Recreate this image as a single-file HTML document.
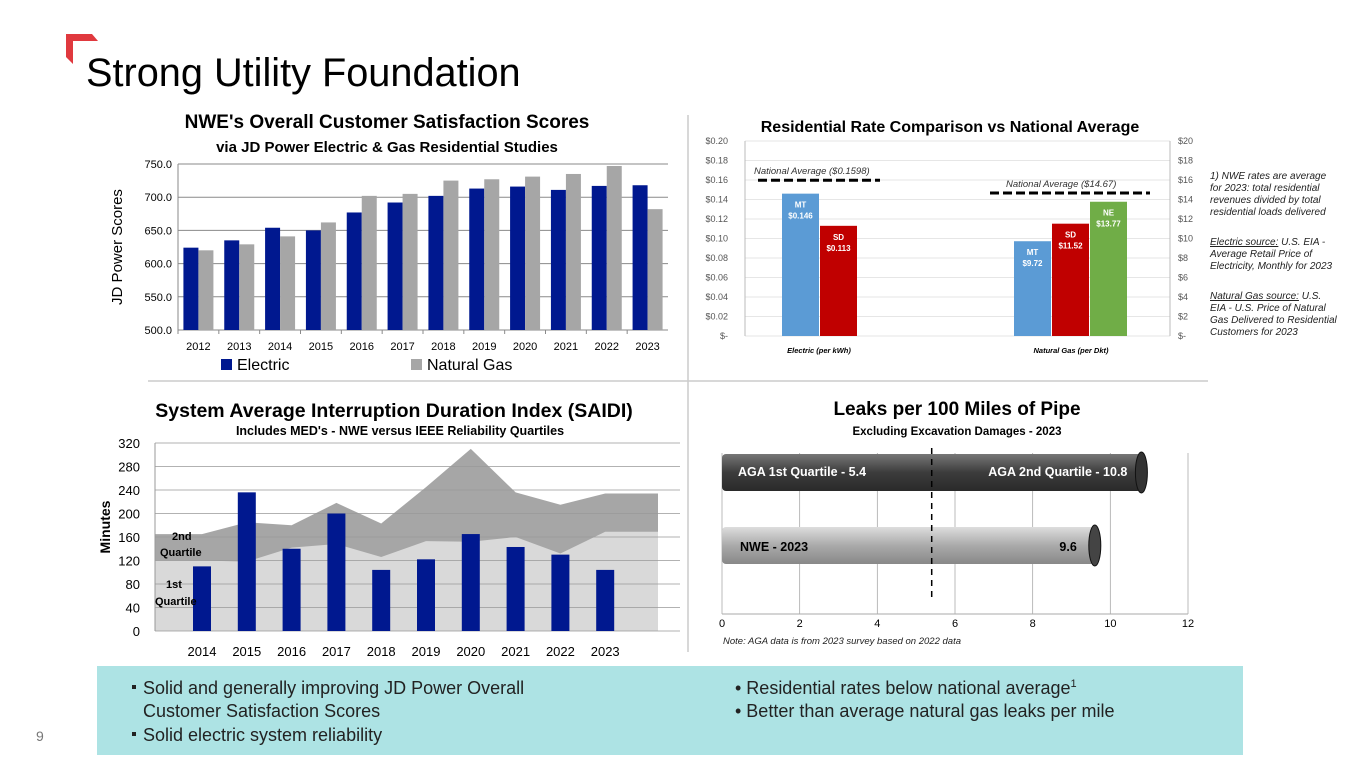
<!DOCTYPE html>
<html><head><meta charset="utf-8">
<style>
html,body{margin:0;padding:0;background:#fff;}
body{width:1365px;height:768px;overflow:hidden;position:relative;font-family:"Liberation Sans",sans-serif;}
svg text{font-family:"Liberation Sans",sans-serif;}
</style></head>
<body>
<svg id="s" width="1365" height="768" viewBox="0 0 1365 768" xmlns="http://www.w3.org/2000/svg">
<polygon points="66,34 92,34 98,41 73,41 73,64 66,57" fill="#e0393e"/>
<text x="86" y="86" font-size="39.7" fill="#000">Strong Utility Foundation</text>
<line x1="688" y1="115" x2="688" y2="652" stroke="#ccc" stroke-width="1.5"/>
<line x1="148" y1="381" x2="1208" y2="381" stroke="#ccc" stroke-width="1.5"/>

<g id="c1">
<text x="387" y="128" font-size="19" font-weight="bold" text-anchor="middle">NWE's Overall Customer Satisfaction Scores</text>
<text x="387" y="152" font-size="15" font-weight="bold" text-anchor="middle">via JD Power Electric &amp; Gas Residential Studies</text>
<text transform="translate(122,247) rotate(-90)" font-size="15" text-anchor="middle">JD Power Scores</text>
<rect x="221" y="359" width="11" height="11" fill="#00188f"/>
<text x="237" y="370" font-size="16">Electric</text>
<rect x="411" y="359" width="11" height="11" fill="#a6a6a6"/>
<text x="427" y="370" font-size="16">Natural Gas</text>
</g>

<g id="c2">
<text x="950" y="132" font-size="16" font-weight="bold" text-anchor="middle">Residential Rate Comparison vs National Average</text>
</g>

<g id="c3">
<text x="394" y="417" font-size="19.5" font-weight="bold" text-anchor="middle">System Average Interruption Duration Index (SAIDI)</text>
<text x="400" y="435" font-size="12.5" font-weight="bold" text-anchor="middle">Includes MED's - NWE versus IEEE Reliability Quartiles</text>
<text transform="translate(110,527) rotate(-90)" font-size="14" font-weight="bold" text-anchor="middle">Minutes</text>
</g>

<g id="c4">
<text x="957" y="415" font-size="19" font-weight="bold" text-anchor="middle">Leaks per 100 Miles of Pipe</text>
<text x="957" y="435" font-size="11.5" font-weight="bold" text-anchor="middle">Excluding Excavation Damages - 2023</text>
<text x="723" y="644" font-size="9.5" font-style="italic" fill="#222">Note: AGA data is from 2023 survey based on 2022 data</text>
</g>

<g font-size="10" font-style="italic" fill="#222">
<text x="1210" y="179">1) NWE rates are average</text>
<text x="1210" y="191">for 2023: total residential</text>
<text x="1210" y="203">revenues divided by total</text>
<text x="1210" y="215">residential loads delivered</text>
<text x="1210" y="245"><tspan text-decoration="underline">Electric source:</tspan> U.S. EIA -</text>
<text x="1210" y="257">Average Retail Price of</text>
<text x="1210" y="269">Electricity, Monthly for 2023</text>
<text x="1210" y="299"><tspan text-decoration="underline">Natural Gas source:</tspan> U.S.</text>
<text x="1210" y="311">EIA - U.S. Price of Natural</text>
<text x="1210" y="323">Gas Delivered to Residential</text>
<text x="1210" y="335">Customers for 2023</text>
</g>

<rect x="97" y="666" width="1146" height="89" fill="#ade3e4"/>
<g font-size="18" fill="#222">
<rect x="132" y="685" width="4" height="4" fill="#222"/>
<text x="143" y="694">Solid and generally improving JD Power Overall</text>
<text x="143" y="717">Customer Satisfaction Scores</text>
<rect x="132" y="732" width="4" height="4" fill="#222"/>
<text x="143" y="741">Solid electric system reliability</text>
<text x="735" y="694">•  Residential rates below national average<tspan font-size="11" dy="-7">1</tspan></text>
<text x="735" y="717">•  Better than average natural gas leaks per mile</text>
</g>
<text x="36" y="741" font-size="14" fill="#777">9</text>
</svg>
<script>
const NS='http://www.w3.org/2000/svg';
function mk(parent,tag,attrs,txt){const e=document.createElementNS(NS,tag);for(const k in attrs)e.setAttribute(k,attrs[k]);if(txt!==undefined)e.textContent=txt;parent.appendChild(e);return e;}

// ---------- Chart 1 data ----------
const satYears=['2012','2013','2014','2015','2016','2017','2018','2019','2020','2021','2022','2023'];
const satElectric=[624,635,654,650,677,692,702,713,716,711,717,718];
const satGas=[620,629,641,662,702,705,725,727,731,735,747,682];
const satTicks=[500,550,600,650,700,750];

// ---------- Chart 2 data ----------
const rateGroups=['Electric (per kWh)','Natural Gas (per Dkt)'];
const rateElecLabels=['MT','SD'];
const rateElecValues=[0.146,0.113];
const rateGasLabels=['MT','SD','NE'];
const rateGasValues=[9.72,11.52,13.77];
const rateNatElec=0.1598;
const rateNatGas=14.67;
const rateLeftTicks=[0,0.02,0.04,0.06,0.08,0.10,0.12,0.14,0.16,0.18,0.20];
const rateRightTicks=[0,2,4,6,8,10,12,14,16,18,20];

// ---------- Chart 3 data ----------
const saidiYears=['2014','2015','2016','2017','2018','2019','2020','2021','2022','2023'];
const saidiNWE=[110,236,140,200,104,122,165,143,130,104];
const saidiQ1=[120,118,142,148,126,153,152,160,132,169];
const saidiQ2=[165,185,180,218,183,245,310,236,215,234];
const saidiTicks=[0,40,80,120,160,200,240,280,320];

// ---------- Chart 4 data ----------
const leakLabels=['AGA 2nd Quartile - 10.8','NWE - 2023'];
const leakValues=[10.8,9.6];
const leakQ1=5.4;
const leakTicks=[0,2,4,6,8,10,12];

// ===== Chart 1 =====
(function(){
const g=document.getElementById('c1');
const x0=178,x1=668,yb=330,yt=164;
const y=v=>yb-(v-500)/(750-500)*(yb-yt);
const step=(x1-x0)/satYears.length;
satTicks.forEach(t=>{
  const l=mk(g,'line',{x1:x0,x2:x1,y1:y(t),y2:y(t),stroke:'#8a8a8a','stroke-width':1});
  
  
  const tx=mk(g,'text',{x:x0-6,y:y(t)+4,'font-size':11,'text-anchor':'end'},t.toFixed(1));
  
  
});
mk(g,'line',{x1:x0,x2:x0,y1:yt,y2:yb,stroke:'#8a8a8a'});
satYears.forEach((yr,i)=>{
  const cx=x0+step*(i+0.5);
  const b1=mk(g,'rect',{x:cx-15,y:y(satElectric[i]),width:15,height:yb-y(satElectric[i]),fill:'#00188f'});
  
  
  const b2=mk(g,'rect',{x:cx,y:y(satGas[i]),width:15,height:yb-y(satGas[i]),fill:'#a6a6a6'});
  
  
  mk(g,'line',{x1:x0+step*i,x2:x0+step*i,y1:yb,y2:yb+4,stroke:'#8a8a8a'});
  const tx=mk(g,'text',{x:cx,y:yb+20,'font-size':11,'text-anchor':'middle'},yr);
  
  
});
})();

// ===== Chart 2 =====
(function(){
const g=document.getElementById('c2');
const x0=745,x1=1170,yb=336,yt=141;
const yL=v=>yb-v/0.20*(yb-yt);
const yR=v=>yb-v/20*(yb-yt);
rateLeftTicks.forEach(t=>{
  const l=mk(g,'line',{x1:x0,x2:x1,y1:yL(t),y2:yL(t),stroke:'#e6e6e6'});
  
  
  const tx=mk(g,'text',{x:x0-17,y:yL(t)+3,'font-size':9,'text-anchor':'end',fill:'#555'},t===0?'$-':'$'+t.toFixed(2));
  
  
});
rateRightTicks.forEach(t=>{
  const tx=mk(g,'text',{x:x1+8,y:yR(t)+3,'font-size':9,fill:'#555'},t===0?'$-':'$'+t);
  
  
});
mk(g,'line',{x1:x0,x2:x0,y1:yt,y2:yb,stroke:'#bbb'});
mk(g,'line',{x1:x1,x2:x1,y1:yt,y2:yb,stroke:'#bbb'});
const cols={MT:'#5b9bd5',SD:'#c00000',NE:'#70ad47'};
const bw=37;
rateElecValues.forEach((v,i)=>{
  const bx=782+i*(bw+1);
  const r=mk(g,'rect',{x:bx,y:yL(v),width:bw,height:yb-yL(v),fill:cols[rateElecLabels[i]]});
  
  
  mk(g,'text',{x:bx+bw/2,y:yL(v)+14,'font-size':8,'font-weight':'bold',fill:'#fff','text-anchor':'middle'},rateElecLabels[i]);
  mk(g,'text',{x:bx+bw/2,y:yL(v)+25,'font-size':8,'font-weight':'bold',fill:'#fff','text-anchor':'middle'},'$'+v.toFixed(3));
});
rateGasValues.forEach((v,i)=>{
  const bx=1014+i*(bw+1);
  const r=mk(g,'rect',{x:bx,y:yR(v),width:bw,height:yb-yR(v),fill:cols[rateGasLabels[i]]});
  
  
  mk(g,'text',{x:bx+bw/2,y:yR(v)+14,'font-size':8,'font-weight':'bold',fill:'#fff','text-anchor':'middle'},rateGasLabels[i]);
  mk(g,'text',{x:bx+bw/2,y:yR(v)+25,'font-size':8,'font-weight':'bold',fill:'#fff','text-anchor':'middle'},'$'+v.toFixed(2));
});
const d1=mk(g,'line',{x1:758,x2:880,y1:yL(rateNatElec),y2:yL(rateNatElec),stroke:'#000','stroke-width':3,'stroke-dasharray':'9,4'});


mk(g,'text',{x:754,y:yL(rateNatElec)-6,'font-size':9.5,'font-style':'italic',fill:'#333'},'National Average ($0.1598)');
const d2=mk(g,'line',{x1:990,x2:1150,y1:yR(rateNatGas),y2:yR(rateNatGas),stroke:'#000','stroke-width':3,'stroke-dasharray':'9,4'});


mk(g,'text',{x:1006,y:yR(rateNatGas)-6,'font-size':9.5,'font-style':'italic',fill:'#333'},'National Average ($14.67)');
const gx=[819,1071];
rateGroups.forEach((n,i)=>{
  const t=mk(g,'text',{x:gx[i],y:yb+17,'font-size':7.5,'font-weight':'bold','font-style':'italic','text-anchor':'middle'},n);
  
  
});
})();

// ===== Chart 3 =====
(function(){
const g=document.getElementById('c3');
const x0=155,x1=680,xa=658,yb=631,yt=443;
const y=v=>yb-v/320*(yb-yt);
const step=44.8, c0=202;
const cx=i=>c0+step*i;
function area(vals){
  let p='M'+x0+','+yb+' L'+x0+','+y(vals[0]);
  vals.forEach((v,i)=>{p+=' L'+cx(i)+','+y(v);});
  p+=' L'+xa+','+y(vals[vals.length-1])+' L'+xa+','+yb+' Z';
  return p;
}
const a2=mk(g,'path',{d:area(saidiQ2),fill:'#a6a6a6'});


const a1=mk(g,'path',{d:area(saidiQ1),fill:'#d9d9d9'});


saidiTicks.forEach(t=>{
  const l=mk(g,'line',{x1:x0,x2:x1,y1:y(t),y2:y(t),stroke:'#999','stroke-width':0.8});
  
  
  const tx=mk(g,'text',{x:x0-15,y:y(t)+5,'font-size':13,'text-anchor':'end'},t);
  
  
});
mk(g,'line',{x1:x0,x2:x0,y1:yt,y2:yb,stroke:'#999'});
saidiYears.forEach((yr,i)=>{
  const b=mk(g,'rect',{x:cx(i)-9,y:y(saidiNWE[i]),width:18,height:yb-y(saidiNWE[i]),fill:'#00188f'});
  
  
  const tx=mk(g,'text',{x:cx(i),y:yb+25,'font-size':13,'text-anchor':'middle'},yr);
  
  
});
mk(g,'text',{x:172,y:540,'font-size':11,'font-weight':'bold'},'2nd');
mk(g,'text',{x:160,y:556,'font-size':11,'font-weight':'bold'},'Quartile');
mk(g,'text',{x:166,y:588,'font-size':11,'font-weight':'bold'},'1st');
mk(g,'text',{x:155,y:605,'font-size':11,'font-weight':'bold'},'Quartile');
})();

// ===== Chart 4 =====
(function(){
const g=document.getElementById('c4');
const x0=722,x1=1188,yb=614;
const x=v=>x0+v/12*(x1-x0);
leakTicks.forEach(t=>{
  const l=mk(g,'line',{x1:x(t),x2:x(t),y1:453,y2:yb,stroke:'#aaa','stroke-width':0.8});
  
  
  const tx=mk(g,'text',{x:x(t),y:yb+13,'font-size':11,'text-anchor':'middle'},t);
  
  
});
mk(g,'line',{x1:x0,x2:x1,y1:yb,y2:yb,stroke:'#aaa'});
const defs=mk(g,'defs',{});
const gr1=mk(defs,'linearGradient',{id:'gd',x1:0,y1:0,x2:0,y2:1});
mk(gr1,'stop',{offset:'0','stop-color':'#777'});mk(gr1,'stop',{offset:'0.5','stop-color':'#3c3c3c'});mk(gr1,'stop',{offset:'1','stop-color':'#2a2a2a'});
const gr2=mk(defs,'linearGradient',{id:'gl',x1:0,y1:0,x2:0,y2:1});
mk(gr2,'stop',{offset:'0','stop-color':'#ddd'});mk(gr2,'stop',{offset:'0.5','stop-color':'#aaa'});mk(gr2,'stop',{offset:'1','stop-color':'#888'});
const rows=[{y:454,fill:'url(#gd)',cap:'#333'},{y:527,fill:'url(#gl)',cap:'#444'}];
leakValues.forEach((v,i)=>{
  const r=rows[i],h=37;
  const b=mk(g,'rect',{x:x0,y:r.y,width:x(v)-x0,height:h,rx:4,fill:r.fill});
  
  
  const c=mk(g,'ellipse',{cx:x(v),cy:r.y+h/2,rx:6,ry:h/2+2,fill:r.cap,stroke:'#111','stroke-width':1});
  
  
});
mk(g,'text',{x:738,y:476,'font-size':12.5,'font-weight':'bold',fill:'#fff'},'AGA 1st Quartile - '+leakQ1);
mk(g,'text',{x:x(leakValues[0])-14,y:476,'font-size':12.5,'font-weight':'bold',fill:'#fff','text-anchor':'end'},leakLabels[0]);
mk(g,'text',{x:740,y:551,'font-size':12.5,'font-weight':'bold',fill:'#000'},leakLabels[1]);
mk(g,'text',{x:x(leakValues[1])-18,y:551,'font-size':12.5,'font-weight':'bold',fill:'#000','text-anchor':'end'},leakValues[1].toFixed(1));
const d=mk(g,'line',{x1:x(leakQ1),x2:x(leakQ1),y1:448,y2:600,stroke:'#000','stroke-width':1.5,'stroke-dasharray':'6,5'});


})();
</script>
</body></html>
